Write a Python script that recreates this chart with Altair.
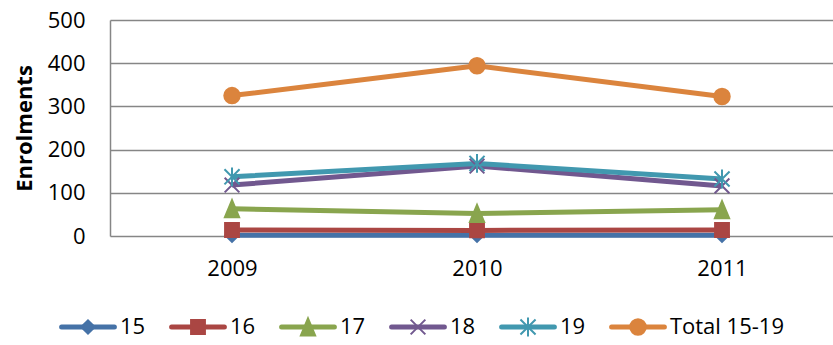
import altair as alt
import pandas as pd

years = [2009, 2010, 2011]
series = ["15", "16", "17", "18", "19", "Total 15-19"]
v15 = [2, 2, 2]
v16 = [14, 13, 14]
v17 = [63, 52, 61]
v18 = [118, 162, 116]
v19 = [137, 168, 132]
vtotal = [325, 394, 323]
y_ticks = [0, 100, 200, 300, 400, 500]

colors = ["#4572a7", "#aa4643", "#89a54e", "#71588f", "#4198af", "#db843d"]
shapes = [
    "diamond",
    "square",
    "M0,-1.2L1,1.2L-1,1.2Z",
    "M-1,-1L1,1M-1,1L1,-1",
    "M-1,-1L1,1M-1,1L1,-1M0,-1.25L0,1.25",
    "circle",
]
sizes = [180, 240, 230, 200, 220, 380]

values = [v15, v16, v17, v18, v19, vtotal]
rows = []
for s, vals in zip(series, values):
    for yr, v in zip(years, vals):
        rows.append({"series": s, "year": yr, "value": v})
df = pd.DataFrame(rows)

leg = pd.DataFrame({"series": series, "idx": list(range(len(series)))})
leg["lo"] = leg["idx"] - 0.24
leg["hi"] = leg["idx"] + 0.24
leg["tx"] = leg["idx"] + 0.29
leg["ly"] = 0.0

FONT = "Open Sans"
GRID = "#868686"

color_scale = alt.Scale(domain=series, range=colors)
shape_scale = alt.Scale(domain=series, range=shapes)
size_scale = alt.Scale(domain=series, range=sizes)

x_scale = alt.Scale(domain=[2008.502, 2011.453], nice=False, zero=False)
y_scale = alt.Scale(domain=[0, 500], nice=False)

lines = alt.Chart(df).mark_line(strokeWidth=5, strokeJoin="round").encode(
    x=alt.X("year:Q", scale=x_scale,
            axis=alt.Axis(values=years, format="d", grid=False, ticks=False,
                          domain=False, labelFontSize=22, labelFont=FONT,
                          labelColor="#000000", labelPadding=22, title=None)),
    y=alt.Y("value:Q", scale=y_scale,
            axis=alt.Axis(values=y_ticks, grid=True, gridColor=GRID, gridWidth=1.5,
                          ticks=False, domain=True, domainColor=GRID, domainWidth=1.5,
                          labelFontSize=22, labelFont=FONT, labelColor="#000000",
                          labelPadding=25, title="Enrolments", titleFont=FONT,
                          titleFontSize=22, titleFontWeight="bold", titleColor="#000000",
                          titlePadding=11)),
    color=alt.Color("series:N", scale=color_scale, legend=None),
    detail="series:N",
)

points = alt.Chart(df).mark_point(filled=True, opacity=1, strokeWidth=2).encode(
    x=alt.X("year:Q", scale=x_scale, axis=None),
    y=alt.Y("value:Q", scale=y_scale, axis=None),
    color=alt.Color("series:N", scale=color_scale, legend=None),
    stroke=alt.Stroke("series:N", scale=color_scale, legend=None),
    shape=alt.Shape("series:N", scale=shape_scale, legend=None),
    size=alt.Size("series:N", scale=size_scale, legend=None),
)

lx_scale = alt.Scale(domain=[0.2, 6.7727], nice=False, zero=False)
ly_scale = alt.Scale(domain=[0.4213, 1.4213], nice=False, zero=False)

leg_lines = alt.Chart(leg).mark_rule(strokeWidth=5, strokeCap="round").encode(
    x=alt.X("lo:Q", scale=lx_scale, axis=None),
    x2="hi:Q",
    y=alt.Y("ly:Q", scale=ly_scale, axis=None),
    color=alt.Color("series:N", scale=color_scale, legend=None),
)

leg_points = alt.Chart(leg).mark_point(filled=True, opacity=1, strokeWidth=2).encode(
    x=alt.X("idx:Q", scale=lx_scale, axis=None),
    y=alt.Y("ly:Q", scale=ly_scale, axis=None),
    color=alt.Color("series:N", scale=color_scale, legend=None),
    stroke=alt.Stroke("series:N", scale=color_scale, legend=None),
    shape=alt.Shape("series:N", scale=shape_scale, legend=None),
    size=alt.Size("series:N", scale=size_scale, legend=None),
)

leg_text = alt.Chart(leg).mark_text(align="left", baseline="middle", fontSize=22,
                                    font=FONT, color="#000000").encode(
    x=alt.X("tx:Q", scale=lx_scale, axis=None),
    y=alt.Y("ly:Q", scale=ly_scale, axis=None),
    text="series:N",
)

chart = alt.layer(lines, points, leg_lines, leg_points, leg_text).resolve_scale(
    x="independent", y="independent"
).properties(
    width=723,
    height=216,
    autosize=alt.AutoSizeParams(type="none"),
    padding={"left": 110, "top": 20, "right": 0, "bottom": 109},
    background="#ffffff",
).configure_view(stroke=None)

chart.save("out.html", embed_options={"renderer": "svg", "actions": False})
